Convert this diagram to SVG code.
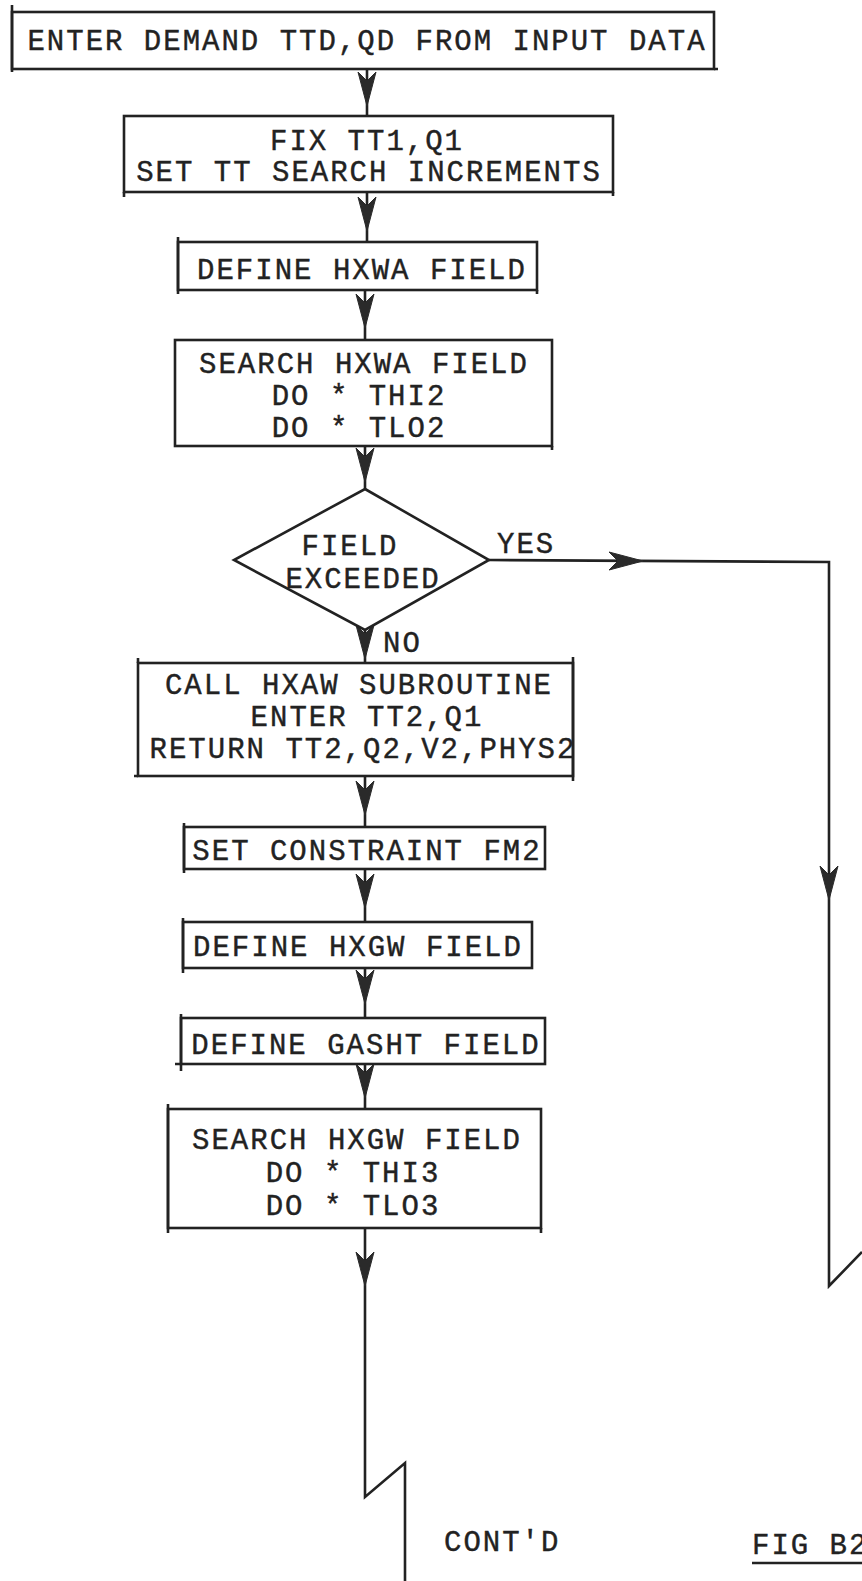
<svg xmlns="http://www.w3.org/2000/svg" width="862" height="1581" viewBox="0 0 862 1581">
<style>
.box{fill:none;stroke:#222;stroke-width:2.6}
.ln{fill:none;stroke:#222;stroke-width:2.6}
.t{font-family:"Liberation Mono","DejaVu Sans Mono",monospace;font-size:29px;letter-spacing:2px;fill:#222;stroke:#222;stroke-width:0.4;text-anchor:middle}
.tl{font-family:"Liberation Mono","DejaVu Sans Mono",monospace;font-size:29px;letter-spacing:2px;fill:#222;stroke:#222;stroke-width:0.4}
.ah{fill:#2a2a2a;stroke:#2a2a2a;stroke-width:1}
</style>
<defs>
<path id="ah" d="M0,0 L-9,-34 L0,-25 L9,-34 Z"/>
</defs>
<rect width="862" height="1581" fill="#fff"/>
<g id="connectors">
<path class="ln" d="M367,69 V116"/>
<use href="#ah" class="ah" transform="translate(367,106)"/>
<path class="ln" d="M367,192 V242"/>
<use href="#ah" class="ah" transform="translate(367,231)"/>
<path class="ln" d="M365,290 V340"/>
<use href="#ah" class="ah" transform="translate(365,328)"/>
<path class="ln" d="M365,446 V489"/>
<use href="#ah" class="ah" transform="translate(365,482)"/>
<path class="ln" d="M365,630 V663"/>
<use href="#ah" class="ah" transform="translate(365,659)"/>
<path class="ln" d="M365,776 V827"/>
<use href="#ah" class="ah" transform="translate(365,815)"/>
<path class="ln" d="M365,869 V922"/>
<use href="#ah" class="ah" transform="translate(365,908)"/>
<path class="ln" d="M365,968 V1018"/>
<use href="#ah" class="ah" transform="translate(365,1004)"/>
<path class="ln" d="M365,1064 V1109"/>
<use href="#ah" class="ah" transform="translate(365,1098)"/>
<path class="ln" d="M365,1228 V1497 L405,1463 V1581"/>
<use href="#ah" class="ah" transform="translate(365,1286)"/>
<path class="ln" d="M489,560 L829,562 V1286 L862,1252"/>
<use href="#ah" class="ah" transform="translate(643,561) rotate(-90)"/>
<use href="#ah" class="ah" transform="translate(829,900)"/>
<text class="tl" x="497" y="553">YES</text>
<text class="tl" x="383" y="652">NO</text>
</g>
<g id="n1">
<rect class="box" x="12" y="12" width="702" height="57"/>
<path class="box" d="M12,5 V72 M714,69 H718"/>
<text class="t" x="367" y="50">ENTER DEMAND TTD,QD FROM INPUT DATA</text>
</g>
<g id="n2">
<rect class="box" x="124" y="116" width="489" height="76"/>
<path class="box" d="M124,192 V197 M613,192 V196"/>
<text class="t" x="367" y="150">FIX TT1,Q1</text>
<text class="t" x="369" y="181">SET TT SEARCH INCREMENTS</text>
</g>
<g id="n3">
<rect class="box" x="178" y="242" width="359" height="48"/>
<path class="box" d="M178,237 V294 M537,290 V294"/>
<text class="t" x="362" y="279">DEFINE HXWA FIELD</text>
</g>
<g id="n4">
<rect class="box" x="175" y="340" width="377" height="106"/>
<path class="box" d="M552,446 V450"/>
<text class="t" x="364" y="373">SEARCH HXWA FIELD</text>
<text class="t" x="359" y="405">DO * THI2</text>
<text class="t" x="359" y="437">DO * TLO2</text>
</g>
<g id="n5">
<path class="box" d="M365,489 L489,560 L365,630 L234,560 Z"/>
<text class="t" x="350" y="555">FIELD</text>
<text class="t" x="363" y="588">EXCEEDED</text>
</g>
<g id="n6">
<rect class="box" x="138" y="663" width="435" height="113"/>
<path class="box" d="M138,658 V663 M573,657 V781 M134,776 H138"/>
<text class="t" x="359" y="694">CALL HXAW SUBROUTINE</text>
<text class="t" x="367" y="726">ENTER TT2,Q1</text>
<text class="t" x="363" y="758">RETURN TT2,Q2,V2,PHYS2</text>
</g>
<g id="n7">
<rect class="box" x="184" y="827" width="361" height="42"/>
<path class="box" d="M184,823 V873"/>
<text class="t" x="367" y="860">SET CONSTRAINT FM2</text>
</g>
<g id="n8">
<rect class="box" x="183" y="922" width="349" height="46"/>
<path class="box" d="M183,918 V973"/>
<text class="t" x="358" y="956">DEFINE HXGW FIELD</text>
</g>
<g id="n9">
<rect class="box" x="181" y="1018" width="364" height="46"/>
<path class="box" d="M181,1014 V1071 M175,1064 H181"/>
<text class="t" x="366" y="1054">DEFINE GASHT FIELD</text>
</g>
<g id="n10">
<rect class="box" x="168" y="1109" width="373" height="119"/>
<path class="box" d="M168,1104 V1233 M541,1228 V1233"/>
<text class="t" x="357" y="1149">SEARCH HXGW FIELD</text>
<text class="t" x="353" y="1182">DO * THI3</text>
<text class="t" x="353" y="1215">DO * TLO3</text>
</g>
<g id="labels">
<text class="tl" x="444" y="1551">CONT'D</text>
<text class="tl" x="752" y="1554">FIG B2</text>
<path class="ln" d="M752,1563 H862" stroke-width="2"/>
</g>
</svg>
